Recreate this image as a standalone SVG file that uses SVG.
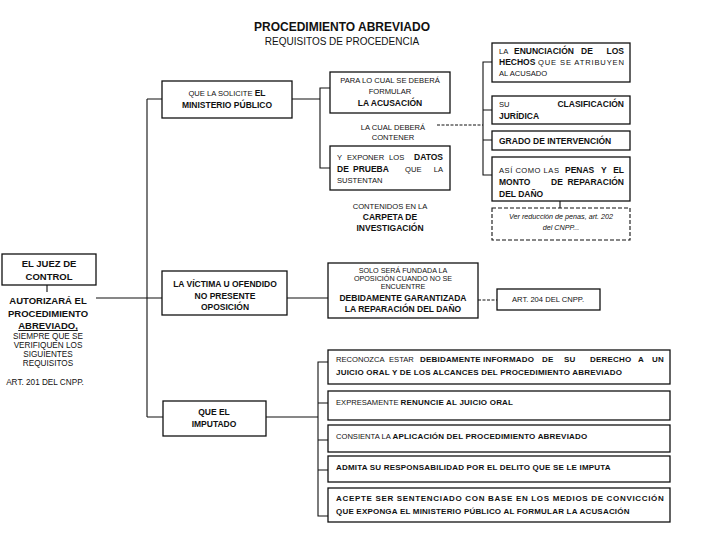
<svg xmlns="http://www.w3.org/2000/svg" width="720" height="540" viewBox="0 0 720 540">
<style>
text{font-family:"Liberation Sans",Arial,sans-serif;fill:#111}
.r{font-size:7.6px}
.s{font-size:7.2px}
.b{font-size:8.5px;font-weight:bold}
.bb{font-size:8px;font-weight:bold;letter-spacing:0.2px}
.L{font-size:9.5px;font-weight:bold}
.Lr{font-size:8.2px}
.m{text-anchor:middle}
.e{text-anchor:end}
.box{fill:#fff;stroke:#111;stroke-width:1.3}
.dbox{fill:#fff;stroke:#111;stroke-width:1.1;stroke-dasharray:4 2}
.ln{fill:none;stroke:#111;stroke-width:1.1}
.dl{fill:none;stroke:#111;stroke-width:1;stroke-dasharray:3 1.5}
</style>
<rect width="720" height="540" fill="#fff"/>
<g id="title">
<text x="342" y="31" class="m" font-size="12" font-weight="bold">PROCEDIMIENTO ABREVIADO</text>
<text x="342" y="45" class="m" font-size="10">REQUISITOS DE PROCEDENCIA</text>
</g>
<g id="connectors">
<path class="ln" d="M47 285V292M96 298H162M147 99V417M147 99H162M147 417H163M292 99H320"/>
<path class="ln" d="M330 88H320V168H330"/>
<path class="dl" d="M437 125H483"/>
<path class="ln" d="M492 62H483V175H492M483 110H492M483 140H492M560 201V208"/>
<path class="ln" d="M287 298H328"/>
<path class="dl" d="M478 300H497"/>
<path class="ln" d="M266 417H318M328 362H318V516H328M318 403H328M318 440H328M318 470H328"/>
</g>
<g id="juez">
<rect class="box" x="2" y="254" width="94" height="31"/>
<text x="49" y="267" class="L m">EL JUEZ DE</text>
<text x="49" y="280" class="L m">CONTROL</text>
</g>
<g id="autoriza">
<text x="48" y="304" class="L m">AUTORIZARÁ EL</text>
<text x="48" y="317" class="L m">PROCEDIMIENTO</text>
<text x="48" y="329" class="L m" text-decoration="underline">ABREVIADO,</text>
<text x="48" y="339" class="Lr m">SIEMPRE QUE SE</text>
<text x="48" y="348" class="Lr m">VERIFIQUEN LOS</text>
<text x="48" y="357" class="Lr m">SIGUIENTES</text>
<text x="48" y="366" class="Lr m">REQUISITOS</text>
<text x="45" y="385" class="Lr m">ART. 201 DEL CNPP.</text>
</g>
<g id="ministerio">
<rect class="box" x="162" y="81" width="130" height="37"/>
<text x="227" y="96" class="m"><tspan class="r">QUE LA SOLICITE </tspan><tspan class="b">EL</tspan></text>
<text x="227" y="108" class="b m">MINISTERIO PÚBLICO</text>
</g>
<g id="acusacion">
<rect class="box" x="330" y="72" width="120" height="41"/>
<text x="390" y="83" class="r m">PARA LO CUAL SE DEBERÁ</text>
<text x="390" y="94" class="r m">FORMULAR</text>
<text x="390" y="106" class="b m">LA ACUSACIÓN</text>
</g>
<g id="lacual">
<text x="393" y="130" class="r m">LA CUAL DEBERÁ</text>
<text x="393" y="140" class="r m">CONTENER</text>
</g>
<g id="datos">
<rect class="box" x="330" y="146" width="120" height="44"/>
<text x="337" y="160" class="r">Y</text>
<text x="347" y="160" class="r">EXPONER</text>
<text x="389" y="160" class="r">LOS</text>
<text x="443" y="160" class="b e">DATOS</text>
<text x="337" y="172" class="b">DE</text>
<text x="353" y="172" class="b">PRUEBA</text>
<text x="405" y="172" class="r">QUE</text>
<text x="443" y="172" class="r e">LA</text>
<text x="337" y="183" class="r">SUSTENTAN</text>
</g>
<g id="carpeta">
<text x="390" y="209" class="r m">CONTENIDOS EN LA</text>
<text x="390" y="220" class="b m">CARPETA DE</text>
<text x="390" y="231" class="b m">INVESTIGACIÓN</text>
</g>
<g id="hechos">
<rect class="box" x="492" y="43" width="138" height="39"/>
<text x="499" y="54" class="r">LA</text>
<text x="514" y="54" class="b">ENUNCIACIÓN</text>
<text x="581" y="54" class="b">DE</text>
<text x="624" y="54" class="b e">LOS</text>
<text x="499" y="65" class="b">HECHOS</text>
<text x="538" y="65" class="r" textLength="86" lengthAdjust="spacing">QUE SE ATRIBUYEN</text>
<text x="499" y="76" class="r">AL ACUSADO</text>
</g>
<g id="clasificacion">
<rect class="box" x="492" y="96" width="138" height="28"/>
<text x="499" y="107" class="r">SU</text>
<text x="624" y="107" class="b e">CLASIFICACIÓN</text>
<text x="499" y="119" class="b">JURÍDICA</text>
</g>
<g id="grado">
<rect class="box" x="492" y="131" width="138" height="19"/>
<text x="499" y="144" class="b">GRADO DE INTERVENCIÓN</text>
</g>
<g id="penas">
<rect class="box" x="492" y="157" width="138" height="44"/>
<text x="499" y="173" class="r" textLength="60" lengthAdjust="spacing">ASÍ COMO LAS</text>
<text x="565" y="173" class="b">PENAS</text>
<text x="601" y="173" class="b">Y</text>
<text x="624" y="173" class="b e">EL</text>
<text x="499" y="185" class="b">MONTO</text>
<text x="551" y="185" class="b">DE</text>
<text x="624" y="185" class="b e">REPARACIÓN</text>
<text x="499" y="197" class="b">DEL DAÑO</text>
</g>
<g id="reduccion">
<rect class="dbox" x="492" y="208" width="138" height="32"/>
<text x="561" y="219" class="s m" font-style="italic">Ver reducción de penas, art. 202</text>
<text x="561" y="230" class="s m" font-style="italic">del CNPP...</text>
</g>
<g id="victima">
<rect class="box" x="162" y="271" width="125" height="44"/>
<text x="225" y="287" class="b m">LA VÍCTIMA U OFENDIDO</text>
<text x="225" y="299" class="b m">NO PRESENTE</text>
<text x="225" y="310" class="b m">OPOSICIÓN</text>
</g>
<g id="oposicion">
<rect class="box" x="328" y="263" width="150" height="55"/>
<text x="403" y="273" class="s m">SOLO SERÁ FUNDADA LA</text>
<text x="403" y="281" class="s m">OPOSICIÓN CUANDO NO SE</text>
<text x="403" y="289" class="s m">ENCUENTRE</text>
<text x="403" y="301" class="b m">DEBIDAMENTE GARANTIZADA</text>
<text x="403" y="312" class="b m">LA REPARACIÓN DEL DAÑO</text>
</g>
<g id="art204">
<rect class="box" x="497" y="289" width="103" height="21" stroke-width="1"/>
<text x="548" y="302" class="r m">ART. 204 DEL CNPP.</text>
</g>
<g id="imputado">
<rect class="box" x="163" y="401" width="103" height="35"/>
<text x="214" y="415" class="b m">QUE EL</text>
<text x="214" y="427" class="b m">IMPUTADO</text>
</g>
<g id="reconozca">
<rect class="box" x="328" y="350" width="342" height="34"/>
<text x="336" y="362" class="r">RECONOZCA</text>
<text x="389" y="362" class="r">ESTAR</text>
<text x="420" y="362" class="bb">DEBIDAMENTE</text>
<text x="483" y="362" class="bb">INFORMADO</text>
<text x="542" y="362" class="bb">DE</text>
<text x="564" y="362" class="bb">SU</text>
<text x="590" y="362" class="bb">DERECHO</text>
<text x="638" y="362" class="bb">A</text>
<text x="664" y="362" class="bb e">UN</text>
<text x="336" y="375" class="bb">JUICIO ORAL Y DE LOS ALCANCES DEL PROCEDIMIENTO ABREVIADO</text>
</g>
<g id="renuncie">
<rect class="box" x="328" y="391" width="342" height="29"/>
<text x="336" y="405"><tspan class="r">EXPRESAMENTE </tspan><tspan class="bb">RENUNCIE AL JUICIO ORAL</tspan></text>
</g>
<g id="consienta">
<rect class="box" x="328" y="425" width="342" height="27"/>
<text x="336" y="439"><tspan class="r">CONSIENTA LA </tspan><tspan class="bb">APLICACIÓN DEL PROCEDIMIENTO ABREVIADO</tspan></text>
</g>
<g id="admita">
<rect class="box" x="328" y="456" width="342" height="26"/>
<text x="336" y="470" class="bb">ADMITA SU RESPONSABILIDAD POR EL DELITO QUE SE LE IMPUTA</text>
</g>
<g id="acepte">
<rect class="box" x="328" y="488" width="342" height="34"/>
<text x="336" y="501" class="bb" textLength="328" lengthAdjust="spacing">ACEPTE SER SENTENCIADO CON BASE EN LOS MEDIOS DE CONVICCIÓN</text>
<text x="336" y="514" class="bb">QUE EXPONGA EL MINISTERIO PÚBLICO AL FORMULAR LA ACUSACIÓN</text>
</g>
</svg>
